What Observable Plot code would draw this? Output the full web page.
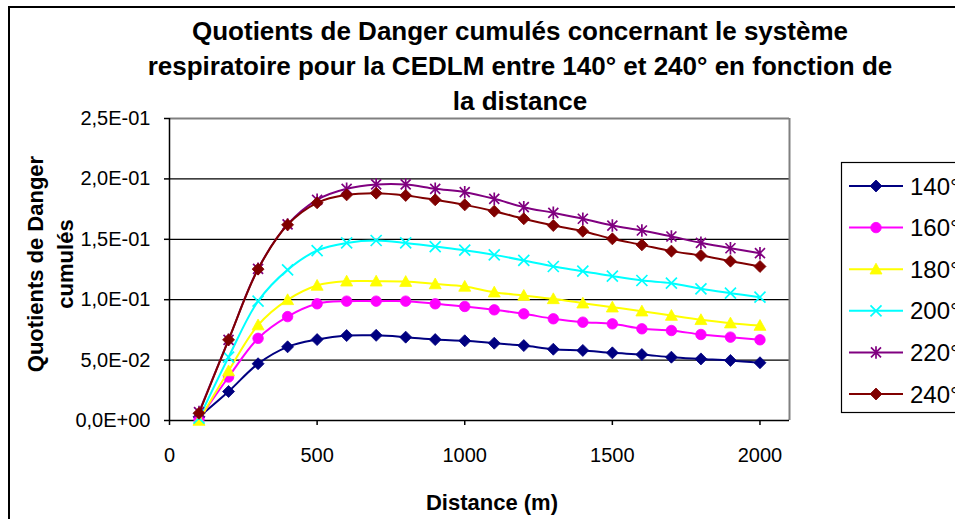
<!DOCTYPE html>
<html>
<head>
<meta charset="utf-8">
<script src="https://cdn.jsdelivr.net/npm/d3@7"></script>
<script src="https://cdn.jsdelivr.net/npm/@observablehq/plot@0.6"></script>
<style>
  html, body { margin: 0; padding: 0; background: #fff; }
  #chart { position: relative; width: 955px; height: 519px; overflow: hidden;
           font-family: "Liberation Sans", Arial, sans-serif; color: #000; background: #fff; }
  #frame { position: absolute; left: 8px; top: 6px; width: 1100px; height: 700px; border: 2px solid #000; }
  #plot { position: absolute; left: 0; top: 0; }
  #title { position: absolute; left: 120px; top: 14px; width: 800px; text-align: center;
           font-weight: bold; font-size: 26px; line-height: 35px; white-space: nowrap; }
  #xtitle { position: absolute; left: 392px; top: 490px; width: 200px; text-align: center;
            font-weight: bold; font-size: 22px; line-height: 26px; }
  #ytitle { position: absolute; left: -99px; top: 234px; width: 300px; height: 60px; text-align: center;
            font-weight: bold; font-size: 22px; line-height: 30px; transform: rotate(-90deg); }
  #legend { position: absolute; left: 840px; top: 161px; }
</style>
</head>
<body>
<div id="chart">
  <div id="frame"></div>
  <div id="plot"></div>
  <div id="title">Quotients de Danger cumulés concernant le système<br>respiratoire pour la CEDLM entre 140° et 240° en fonction de<br>la distance</div>
  <div id="ytitle">Quotients de Danger<br>cumulés</div>
  <div id="xtitle">Distance (m)</div>
  <svg id="legend" width="115" height="253"></svg>
</div>
<script>
// Distance from the source (m)
const distances = [100, 200, 300, 400, 500, 600, 700, 800, 900, 1000,
                   1100, 1200, 1300, 1400, 1500, 1600, 1700, 1800, 1900, 2000];

// Cumulated hazard quotients, one series per direction
const qd140 = [0.003, 0.024, 0.047, 0.061, 0.067, 0.0703, 0.0705, 0.069, 0.067, 0.066,
               0.064, 0.062, 0.059, 0.058, 0.056, 0.0546, 0.0524, 0.051, 0.0497, 0.0478];
const qd160 = [0.001, 0.036, 0.068, 0.086, 0.0966, 0.0988, 0.0988, 0.0988, 0.0966, 0.0944,
               0.0916, 0.0883, 0.0842, 0.0814, 0.080, 0.0759, 0.0745, 0.0712, 0.069, 0.0668];
const qd180 = [0.0, 0.041, 0.079, 0.0999, 0.1118, 0.1153, 0.1153, 0.115, 0.113, 0.111,
               0.1062, 0.1035, 0.1007, 0.0971, 0.0938, 0.0905, 0.0869, 0.0834, 0.0806, 0.0786];
const qd200 = [0.002, 0.0524, 0.0988, 0.1247, 0.1407, 0.147, 0.149, 0.147, 0.144, 0.141,
               0.1371, 0.1325, 0.1275, 0.1236, 0.1195, 0.1159, 0.1137, 0.109, 0.1054, 0.1021];
const qd220 = [0.007, 0.0668, 0.1256, 0.1623, 0.1827, 0.1918, 0.1954, 0.1954, 0.1918, 0.189,
               0.1835, 0.1766, 0.1719, 0.167, 0.1614, 0.1573, 0.1523, 0.1471, 0.1426, 0.1385];
const qd240 = [0.006, 0.0668, 0.1253, 0.162, 0.1802, 0.1868, 0.1882, 0.1863, 0.1827, 0.1785,
               0.1733, 0.167, 0.1614, 0.1567, 0.1504, 0.1454, 0.1402, 0.1366, 0.1319, 0.1275];

const seriesNames = ["140°", "160°", "180°", "200°", "220°", "240°"];
const seriesValues = [qd140, qd160, qd180, qd200, qd220, qd240];
const seriesColors = ["#000080", "#FF00FF", "#FFFF00", "#00FFFF", "#800080", "#800000"];

// Axis ticks and their labels
const yTicks = [0, 0.05, 0.10, 0.15, 0.20, 0.25];
const yTickLabels = ["0,0E+00", "5,0E-02", "1,0E-01", "1,5E-01", "2,0E-01", "2,5E-01"];
const xTicks = [0, 500, 1000, 1500, 2000];
const xTickLabels = ["0", "500", "1000", "1500", "2000"];
const gridValues = [0.05, 0.10, 0.15, 0.20];

// Marker shapes (size is the area given by Plot: π r²)
const rad = size => Math.sqrt(size / Math.PI);
const diamondSym = { draw(ctx, size) { const r = rad(size) * 1.2;
  ctx.moveTo(0, -r); ctx.lineTo(r, 0); ctx.lineTo(0, r); ctx.lineTo(-r, 0); ctx.closePath(); } };
const circleSym = { draw(ctx, size) { const r = rad(size) * 1.05;
  ctx.moveTo(r, 0); ctx.arc(0, 0, r, 0, 2 * Math.PI); } };
const triangleSym = { draw(ctx, size) { const r = rad(size) * 1.2;
  ctx.moveTo(0, -r); ctx.lineTo(r, r * 0.8); ctx.lineTo(-r, r * 0.8); ctx.closePath(); } };
const timesSym = { draw(ctx, size) { const r = rad(size) * 1.1;
  ctx.moveTo(-r, -r); ctx.lineTo(r, r); ctx.moveTo(-r, r); ctx.lineTo(r, -r); } };
const starSym = { draw(ctx, size) { const r = rad(size) * 1.0, v = rad(size) * 1.25;
  ctx.moveTo(-r, -r); ctx.lineTo(r, r); ctx.moveTo(-r, r); ctx.lineTo(r, -r);
  ctx.moveTo(0, -v); ctx.lineTo(0, v); } };

const seriesSymbols = [diamondSym, circleSym, triangleSym, timesSym, starSym, diamondSym];
const seriesFilled = [true, true, true, false, false, true];

const seriesMarks = seriesValues.flatMap((vals, i) => {
  const rows = distances.map((d, j) => ({distance: d, value: vals[j]}));
  const color = seriesColors[i];
  return [
    Plot.line(rows, {x: "distance", y: "value", stroke: color, strokeWidth: 2, curve: "catmull-rom"}),
    Plot.dot(rows, {x: "distance", y: "value", r: 5, symbol: seriesSymbols[i],
      fill: seriesFilled[i] ? color : "none", stroke: color,
      strokeWidth: seriesFilled[i] ? 0.8 : 1.7})
  ];
});

const chart = Plot.plot({
  width: 955,
  height: 519,
  marginLeft: 169,
  marginRight: 166,
  marginTop: 118,
  marginBottom: 99,
  style: {fontFamily: '"Liberation Sans", Arial, sans-serif', fontSize: "20px", color: "#000", background: "transparent", overflow: "visible"},
  x: {domain: [0, 2100]},
  y: {domain: [0, 0.25]},
  marks: [
    Plot.ruleY(gridValues, {stroke: "#000", strokeWidth: 1.3}),
    Plot.ruleY([0.25], {stroke: "#808080", strokeWidth: 2}),
    Plot.ruleX([2100], {stroke: "#808080", strokeWidth: 2}),
    Plot.axisY({ticks: yTicks, tickFormat: d => yTickLabels[yTicks.indexOf(d)], tickSize: 5, tickPadding: 14,
                fontSize: 20, label: null, stroke: "#000", strokeWidth: 1.5}),
    Plot.axisX({ticks: xTicks, tickFormat: d => xTickLabels[xTicks.indexOf(d)], tickSize: 5, tickPadding: 22,
                fontSize: 20, label: null, stroke: "#000", strokeWidth: 1.5}),
    Plot.ruleX([0], {stroke: "#000", strokeWidth: 1.5}),
    Plot.ruleY([0], {stroke: "#000", strokeWidth: 1.5}),
    ...seriesMarks
  ]
});
document.getElementById("plot").appendChild(chart);

// Legend: line with marker and the direction label
const legend = d3.select("#legend");
legend.append("rect").attr("x", 1.5).attr("y", 1.5).attr("width", 200).attr("height", 250)
  .attr("fill", "#fff").attr("stroke", "#000").attr("stroke-width", 1.2);
seriesNames.forEach((name, i) => {
  const y = 25 + i * 41.6;
  const g = legend.append("g").attr("transform", `translate(0,${y})`);
  g.append("line").attr("x1", 9).attr("x2", 63).attr("stroke", seriesColors[i]).attr("stroke-width", 2);
  g.append("path").attr("transform", "translate(36,0)")
    .attr("d", d3.symbol(seriesSymbols[i], 25 * Math.PI)())
    .attr("fill", seriesFilled[i] ? seriesColors[i] : "none")
    .attr("stroke", seriesColors[i]).attr("stroke-width", seriesFilled[i] ? 0.8 : 1.7);
  g.append("text").attr("x", 70).attr("dy", "0.36em").attr("font-size", 24).text(name);
});
</script>
</body>
</html>
